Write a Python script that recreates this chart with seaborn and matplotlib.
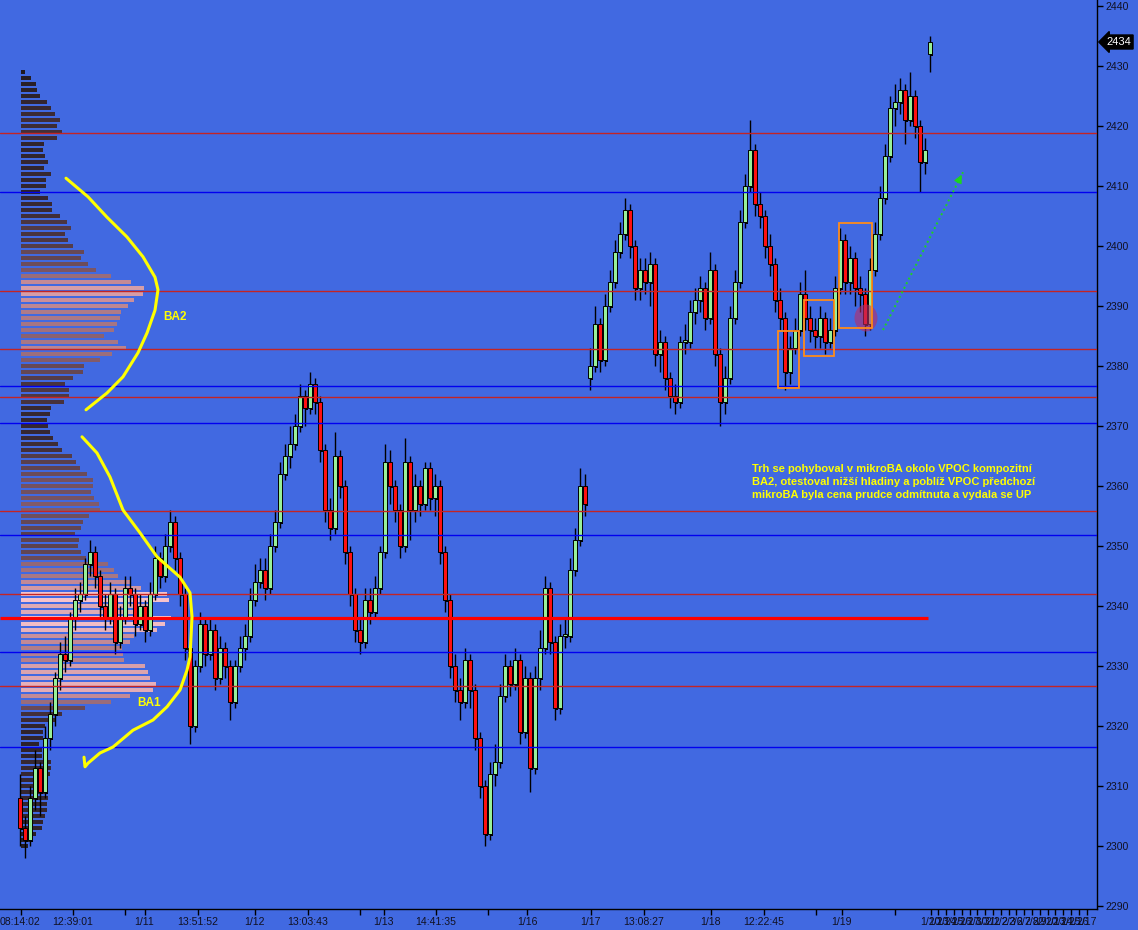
import numpy as np
import matplotlib
matplotlib.use("Agg")
import matplotlib.pyplot as plt
import matplotlib.patheffects as pe
from matplotlib.colors import LinearSegmentedColormap
from matplotlib.patches import Rectangle, Ellipse
from matplotlib.transforms import blended_transform_factory
import seaborn as sns

# candles (one per bar, open = previous close except at session starts)
closes = [2303, 2301, 2308, 2313, 2309, 2318, 2322, 2328, 2332, 2331,
          2338, 2341, 2342, 2347, 2349, 2345, 2340, 2338, 2342, 2334,
          2338, 2343, 2342, 2337, 2340, 2336, 2342, 2348, 2345, 2350,
          2354, 2348, 2342, 2333, 2320, 2330, 2337, 2332, 2336, 2328,
          2333, 2330, 2324, 2330, 2333, 2335, 2341, 2344, 2346, 2343,
          2350, 2354, 2362, 2365, 2367, 2370, 2375, 2373, 2377, 2374,
          2366, 2356, 2353, 2365, 2360, 2349, 2342, 2336, 2334, 2341,
          2339, 2343, 2349, 2364, 2360, 2356, 2350, 2364, 2356, 2360,
          2357, 2363, 2358, 2360, 2349, 2341, 2330, 2326, 2324, 2331,
          2326, 2318, 2310, 2302, 2312, 2314, 2325, 2330, 2327, 2331,
          2319, 2328, 2313, 2328, 2333, 2343, 2334, 2323, 2335, 2335,
          2346, 2351, 2360, 2357,
          2380, 2387, 2381, 2390, 2394, 2399, 2402, 2406, 2400, 2393,
          2396, 2394, 2397, 2382, 2384, 2378, 2375, 2374, 2384, 2384,
          2389, 2391, 2393, 2388, 2396, 2382, 2374, 2378, 2388, 2394,
          2404, 2410, 2416, 2407, 2405, 2400, 2397, 2391, 2388, 2379,
          2383, 2386, 2392, 2388, 2386, 2385, 2388, 2384, 2386, 2393,
          2401, 2394, 2398, 2393, 2392, 2387, 2396, 2402, 2408, 2415,
          2423, 2424, 2426, 2421, 2425, 2420, 2414, 2416, 2434]
highs = [2312, 2305, 2310, 2316, 2314, 2320, 2324, 2329, 2334, 2335,
         2339, 2343, 2344, 2348, 2351, 2350, 2346, 2342, 2344, 2343,
         2340, 2345, 2345, 2343, 2342, 2341, 2344, 2350, 2349, 2352,
         2356, 2355, 2349, 2343, 2334, 2331, 2339, 2338, 2338, 2337,
         2335, 2334, 2331, 2331, 2335, 2337, 2343, 2347, 2348, 2348,
         2352, 2356, 2364, 2367, 2370, 2372, 2377, 2376, 2379, 2378,
         2375, 2367, 2358, 2369, 2366, 2361, 2350, 2343, 2338, 2343,
         2343, 2345, 2350, 2367, 2366, 2361, 2357, 2368, 2365, 2362,
         2361, 2364, 2364, 2362, 2361, 2350, 2342, 2332, 2328, 2333,
         2332, 2327, 2319, 2311, 2314, 2317, 2327, 2332, 2331, 2333,
         2332, 2330, 2329, 2330, 2336, 2345, 2344, 2335, 2337, 2338,
         2348, 2353, 2363, 2362,
         2383, 2390, 2388, 2392, 2396, 2401, 2404, 2408, 2407, 2401,
         2398, 2398, 2399, 2398, 2386, 2385, 2379, 2377, 2385, 2387,
         2391, 2393, 2395, 2394, 2399, 2397, 2383, 2380, 2390, 2396,
         2406, 2412, 2421, 2417, 2409, 2406, 2402, 2398, 2393, 2389,
         2385, 2388, 2394, 2396, 2390, 2388, 2390, 2389, 2388, 2395,
         2403, 2402, 2400, 2399, 2395, 2393, 2398, 2404, 2410, 2417,
         2425, 2427, 2428, 2427, 2429, 2426, 2421, 2418, 2435]
lows = [2300, 2298, 2300, 2306, 2305, 2308, 2316, 2320, 2326, 2329,
        2330, 2336, 2339, 2341, 2345, 2343, 2338, 2336, 2337, 2332,
        2333, 2337, 2340, 2335, 2336, 2334, 2335, 2341, 2343, 2344,
        2349, 2346, 2340, 2331, 2317, 2319, 2329, 2330, 2331, 2326,
        2327, 2328, 2321, 2323, 2329, 2331, 2334, 2340, 2343, 2341,
        2342, 2349, 2353, 2361, 2363, 2366, 2369, 2370, 2372, 2372,
        2364, 2354, 2351, 2352, 2358, 2347, 2340, 2334, 2332, 2333,
        2337, 2338, 2342, 2348, 2357, 2354, 2348, 2349, 2351, 2354,
        2355, 2356, 2356, 2355, 2347, 2339, 2328, 2324, 2321, 2323,
        2323, 2316, 2308, 2300, 2301, 2310, 2313, 2324, 2325, 2326,
        2317, 2318, 2309, 2312, 2326, 2332, 2332, 2321, 2322, 2333,
        2334, 2345, 2350, 2355,
        2376, 2379, 2379, 2380, 2389, 2393, 2398, 2401, 2398, 2391,
        2391, 2392, 2390, 2380, 2379, 2376, 2373, 2372, 2373, 2382,
        2383, 2387, 2389, 2386, 2387, 2380, 2370, 2372, 2377, 2387,
        2393, 2403, 2409, 2405, 2403, 2398, 2395, 2389, 2386, 2376,
        2377, 2382, 2385, 2386, 2384, 2383, 2383, 2382, 2383, 2385,
        2392, 2392, 2392, 2390, 2389, 2385, 2386, 2395, 2401, 2407,
        2414, 2420, 2422, 2417, 2420, 2418, 2409, 2412, 2429]
session_opens = {0: 2308, 114: 2378, 182: 2432}

# composite volume profile, one row per point from 2429 down
profile_top = 2429
profile_vol = [4, 10, 15, 16, 19, 26, 30, 34, 39, 36, 41, 36, 23, 22, 24, 27, 23, 30, 25, 25,
               19, 27, 31, 31, 39, 46, 50, 44, 47, 52, 63, 60, 67, 75, 90, 110, 123, 122, 113, 107,
               100, 99, 96, 93, 83, 97, 105, 91, 79, 63, 62, 52, 44, 48, 48, 43, 30, 29, 26, 27,
               29, 32, 37, 41, 51, 55, 59, 66, 72, 72, 70, 73, 78, 79, 68, 62, 60, 54, 58, 57,
               60, 65, 87, 93, 97, 109, 120, 146, 148, 131, 131, 150, 144, 136, 113, 109, 101, 102, 103, 124,
               127, 129, 135, 132, 109, 90, 64, 41, 34, 24, 22, 22, 18, 21, 21, 30, 30, 29, 27, 27,
               27, 27, 26, 26, 24, 22, 21, 15, 11, 7]

# horizontal levels
level_prices = [2418.8, 2409.0, 2392.5, 2382.8, 2376.7, 2374.8, 2370.5,
                2355.8, 2351.8, 2342.0, 2332.3, 2326.7, 2316.5]
level_kinds = ['r', 'b', 'r', 'r', 'b', 'r', 'b', 'r', 'b', 'r', 'b', 'r', 'b']
vpoc_price = 2338.0
vpoc_end = 181.6

# hand drawn marks
ba2_x = [9.2, 13.6, 17.4, 21.4, 24.6, 27.0, 27.6, 27.0, 25.4, 23.6, 20.6, 17.4, 13.2]
ba2_y = [2411.3, 2408.2, 2404.8, 2401.5, 2398.2, 2394.8, 2392.7, 2389.3, 2385.5, 2382.2, 2378.2, 2375.5, 2372.7]
ba1_x = [12.4, 15.4, 18.0, 20.6, 24.0, 27.4, 32.0, 34.0, 34.4, 34.0, 33.4, 32.0, 29.4, 26.6, 22.6, 18.6, 16.0, 13.6, 13.0, 12.8]
ba1_y = [2368.2, 2365.5, 2361.5, 2356.0, 2352.2, 2348.2, 2344.8, 2342.2, 2338.2, 2331.5, 2329.3, 2326.0,
         2323.2, 2321.0, 2319.3, 2316.5, 2315.5, 2313.8, 2313.2, 2314.8]
ba2_label = (28.6, 2388.2)
ba1_label = (23.4, 2323.8)
boxes = [(151.6, 2376.3, 155.8, 2385.8), (156.8, 2381.7, 162.8, 2391.0), (163.8, 2386.3, 170.4, 2403.8)]
reject_point = (169.2, 2388.0)
arrow_start = (172.6, 2386.0)
arrow_end = (188.6, 2412.3)
note_pos = (146.5, 2360.7)
note = ("Trh se pohyboval v mikroBA okolo VPOC kompozitní\n"
        "BA2, otestoval nižší hladiny a poblíž VPOC předchozí\n"
        "mikroBA byla cena prudce odmítnuta a vydala se UP")

# axes ticks
tick_pos = [0.1, 10.5, 20.9, 24.9, 35.5, 46.9, 57.5, 68.0, 72.7, 83.2, 93.6, 101.4,
            114.1, 124.7, 138.1, 148.8, 159.1, 164.3, 174.9]
tick_labels = ['08:14:02', '12:39:01', '', '1/11', '13:51:52', '1/12', '13:03:43', '', '1/13',
               '14:41:35', '', '1/16', '1/17', '13:08:27', '1/18', '12:22:45', '', '1/19', '']
future_labels = ['1/20', '1/23', '1/24', '1/25', '1/26', '1/27', '1/30', '1/31', '2/1', '2/2', '2/3',
                 '2/6', '2/7', '2/8', '2/9', '2/10', '2/13', '2/14', '2/15', '2/16', '2/17']
y_ticks = list(range(2290, 2441, 10))
last_price = 2434

bg = '#4169e1'
red_line = '#c42424'
blue_line = '#0000f0'
yellow = '#ffff00'

sns.set_theme(style="white")
plt.rcParams['font.family'] = ['Liberation Sans', 'DejaVu Sans']

fig = plt.figure(figsize=(11.38, 9.30), dpi=100, facecolor=bg)
ax = fig.add_axes([0, 21 / 930, 1097 / 1138, 909 / 930])
ax.set_facecolor('none')

# profile lives on its own x scale, behind the candles
ax_prof = ax.twiny()
ax_prof.set_zorder(ax.get_zorder() - 1)
ax_prof.set_facecolor('none')
levels = profile_top - np.arange(len(profile_vol))
cmap = LinearSegmentedColormap.from_list('vp', ['#1c171f', '#3e2c36', '#7a5565', '#c98e9a', '#f8c6ce'])
vol = np.array(profile_vol, dtype=float)
ax_prof.barh(levels, vol, height=0.82, left=0, color=cmap(vol / vol.max()), linewidth=0)
ax_prof.set_xlim(-21, 1076)
ax_prof.set_axis_off()

# levels
for p, k in zip(level_prices, level_kinds):
    ax.axhline(p, color=red_line if k == 'r' else blue_line, lw=1.0, zorder=4)
ax.hlines(vpoc_price, -4, vpoc_end, color='#ff0000', lw=2.3, zorder=4)

# candles
n = len(closes)
idx = np.arange(n)
o = np.array([session_opens.get(i, closes[i - 1]) for i in range(n)], dtype=float)
c = np.array(closes, dtype=float)
up = c >= o
body_lo = np.minimum(o, c)
body_h = np.maximum(np.abs(c - o), 0.35)
ax.vlines(idx, lows, highs, color='black', lw=1.0, zorder=3)
bars = ax.bar(idx, body_h, bottom=body_lo, width=0.68,
              color=np.where(up, '#98f098', '#ff1010'),
              edgecolor='black', linewidth=0.7, zorder=3)
for b in bars:
    b.set_path_effects([pe.SimplePatchShadow(offset=(1.2, -1.2), shadow_rgbFace='black', alpha=1.0),
                        pe.Normal()])

# yellow drawings
sns.lineplot(x=ba2_x, y=ba2_y, sort=False, estimator=None, color=yellow, lw=2.2, ax=ax, zorder=6)
sns.lineplot(x=ba1_x, y=ba1_y, sort=False, estimator=None, color=yellow, lw=2.2, ax=ax, zorder=6)
ax.text(*ba2_label, 'BA2', color=yellow, fontweight='bold', fontsize=8.5, va='center', ha='left', zorder=8)
ax.text(*ba1_label, 'BA1', color=yellow, fontweight='bold', fontsize=8.5, va='center', ha='left', zorder=8)

ax.add_patch(Ellipse(reject_point, width=4.6, height=4.5, fc=(0.72, 0.18, 0.4, 0.6), ec='none', zorder=6))

for x0, y0, x1, y1 in boxes:
    ax.add_patch(Rectangle((x0, y0), x1 - x0, y1 - y0, fill=False, ec='#ff8c1a', lw=1.3, zorder=7))

ax.plot([arrow_start[0], arrow_end[0]], [arrow_start[1], arrow_end[1]],
        ls=':', color='#1ed41e', lw=1.4, zorder=7)
head_from = (arrow_end[0] - 0.08 * (arrow_end[0] - arrow_start[0]),
             arrow_end[1] - 0.08 * (arrow_end[1] - arrow_start[1]))
ax.annotate('', xy=arrow_end, xytext=head_from,
            arrowprops=dict(arrowstyle='-|>', color='#1ed41e', lw=1.0, mutation_scale=12), zorder=7)

ax.text(*note_pos, note, color=yellow, fontweight='bold', fontsize=8, va='center', ha='left',
        linespacing=1.35, zorder=8)

# axes
ax.set_xlim(-4, 215.4)
ax.set_ylim(2289.5, 2441)
ax.yaxis.tick_right()
ax.set_yticks(y_ticks)
ax.set_yticklabels([str(v) for v in y_ticks])
all_pos = tick_pos + list(182.1 + 1.56 * np.arange(len(future_labels)))
ax.set_xticks(all_pos)
ax.set_xticklabels(tick_labels + future_labels)
ax.tick_params(axis='y', which='both', direction='out', length=4, width=1, colors='black',
               labelcolor='#111122', labelsize=7.6, pad=2, right=True, left=False)
ax.tick_params(axis='x', which='both', direction='out', length=4.5, width=1, colors='black',
               labelcolor='#111122', labelsize=7.6, pad=1.5, bottom=True)
for side in ['top', 'left']:
    ax.spines[side].set_visible(False)
for side in ['right', 'bottom']:
    ax.spines[side].set_color('black')
    ax.spines[side].set_linewidth(1.0)
ax.grid(False)

# last price tag
trans = blended_transform_factory(ax.transAxes, ax.transData)
ax.text(1.0085, last_price, str(last_price), transform=trans, color='white', fontsize=8,
        va='center', ha='left', zorder=10, clip_on=False,
        bbox=dict(boxstyle='larrow,pad=0.18', fc='black', ec='black'))

fig.savefig('out.png', dpi=100, facecolor=bg)
